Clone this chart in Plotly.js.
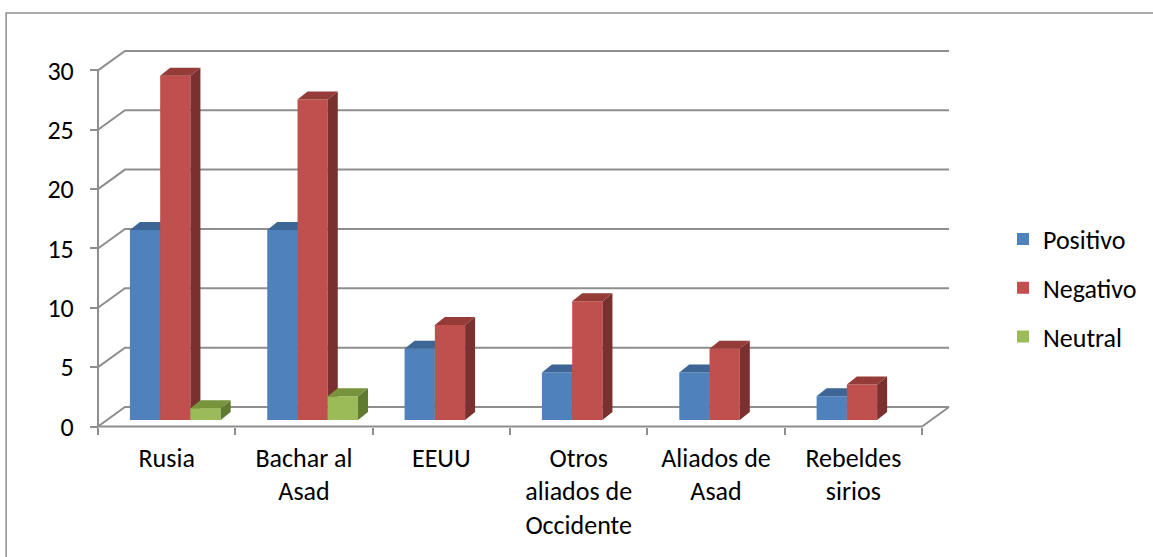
<!DOCTYPE html>
<html><head><meta charset="utf-8">
<script src="https://cdn.plot.ly/plotly-3.0.1.min.js"></script>
<style>html,body{margin:0;padding:0;background:#fff}#chart{width:1153px;height:557px}</style>
</head><body><div id="chart"></div>
<script>
// ---- data ----
const categories = ['Rusia', 'Bachar al<br>Asad', 'EEUU', 'Otros<br>aliados de<br>Occidente', 'Aliados de<br>Asad', 'Rebeldes<br>sirios'];
const seriesNames = ['Positivo', 'Negativo', 'Neutral'];
const positivo = [16, 16, 6, 4, 4, 2];
const negativo = [29, 27, 8, 10, 6, 3];
const neutral = [1, 2, 0, 0, 0, 0];
const yTickVals = [0, 5, 10, 15, 20, 25, 30];

// ---- styles ----
const frontColors = ['#4F81BD', '#C0504D', '#9BBB59'];
const topColors = ['#3D6596', '#953B38', '#77933C'];
const sideColors = ['#2F4F75', '#7A302E', '#607A30'];
const gridColor = '#8E8E8E';
const FONT = {family: 'Carlito, Lato, "Liberation Sans", sans-serif', size: 26, color: '#000'};

// ---- geometry (pixels) ----
const W = 1153, H = 557;
const plotL = 88, plotR = 956, plotT = 36, plotB = 432;
const frontLeftPx = 98, frontRightPx = 923, frontBasePx = 426.5, barBasePx = 420;
const pxPerX = (frontRightPx - frontLeftPx) / categories.length;
const pxPerY = 11.87;
const backDx = 27 / pxPerX, backDy = 19.5 / pxPerY;
const barDx = 10 / pxPerX, barDy = 8 / pxPerY;
const barW = 30.3 / pxPerX, groupLeft = -36.8 / pxPerX;

const xRange = [-0.5 - (frontLeftPx - plotL) / pxPerX, -0.5 + (plotR - frontLeftPx) / pxPerX];
const yFront = [-(plotB - frontBasePx) / pxPerY, (frontBasePx - plotT) / pxPerY];
const yBar = [-(plotB - barBasePx) / pxPerY, (barBasePx - plotT) / pxPerY];
const xPaper = px => (px - plotL) / (plotR - plotL);
const yPaper = py => (plotB - py) / (plotB - plotT);

const idx = categories.map((c, i) => i);
const xLeft = -0.5, xRight = categories.length - 0.5;
const yMax = yTickVals[yTickVals.length - 1];

// ---- walls / gridlines / axis lines ----
const gx = [], gy = [];
yTickVals.forEach(v => {
  gx.push(xLeft, xLeft + backDx, xRight + backDx, null);
  gy.push(v, v + backDy, v + backDy, null);
});
const ax = [xLeft, xLeft, null, xLeft, xRight, xRight + backDx];
const ay = [yMax, 0, null, 0, 0, backDy];

const traces = [
  {type: 'scatter', mode: 'lines', x: gx, y: gy, xaxis: 'x', yaxis: 'y',
   line: {color: gridColor, width: 2}, hoverinfo: 'skip', showlegend: false},
  {type: 'scatter', mode: 'lines', x: ax, y: ay, xaxis: 'x', yaxis: 'y',
   line: {color: gridColor, width: 2}, hoverinfo: 'skip', showlegend: false}
];

const allSeries = [positivo, negativo, neutral];
allSeries.forEach((vals, s) => {
  const yName = 'y' + (s + 2);
  const off = groupLeft + s * barW;
  traces.push({
    type: 'bar', name: seriesNames[s], legendgroup: seriesNames[s],
    x: idx, y: vals, width: barW, offset: off,
    customdata: categories.map(c => c.replace(/<br>/g, ' ')),
    hovertemplate: '%{customdata}: %{y}<extra>' + seriesNames[s] + '</extra>',
    marker: {color: frontColors[s], line: {width: 0}},
    xaxis: 'x', yaxis: yName
  });
  const tx = [], ty = [], sx = [], sy = [];
  vals.forEach((v, i) => {
    if (!v) return;
    const x0 = i + off, x1 = x0 + barW;
    tx.push(x0, x1, x1 + barDx, x0 + barDx, x0, null);
    ty.push(v, v, v + barDy, v + barDy, v, null);
    sx.push(x1, x1, x1 + barDx, x1 + barDx, x1, null);
    sy.push(0, v, v + barDy, barDy, 0, null);
  });
  traces.push({type: 'scatter', mode: 'lines', x: sx, y: sy, fill: 'toself', fillcolor: sideColors[s],
    line: {width: 0, color: sideColors[s]}, legendgroup: seriesNames[s], showlegend: false, hoverinfo: 'skip',
    xaxis: 'x', yaxis: yName});
  traces.push({type: 'scatter', mode: 'lines', x: tx, y: ty, fill: 'toself', fillcolor: topColors[s],
    line: {width: 0, color: topColors[s]}, legendgroup: seriesNames[s], showlegend: false, hoverinfo: 'skip',
    xaxis: 'x', yaxis: yName});
});

const boundaries = idx.concat([categories.length]).map(i => i - 0.5);

const layout = {
  width: W, height: H,
  margin: {l: plotL, r: W - plotR, t: plotT, b: H - plotB, pad: 0},
  paper_bgcolor: '#fff', plot_bgcolor: 'rgba(0,0,0,0)',
  font: FONT,
  barmode: 'overlay',
  showlegend: true,
  xaxis: {
    type: 'linear', range: xRange, fixedrange: true,
    tickmode: 'array', tickvals: idx, ticktext: categories,
    ticks: '', showgrid: false, zeroline: false, showline: false,
    tickfont: FONT, anchor: 'free', position: yPaper(frontBasePx),
    ticklabelstandoff: 13,
    minor: {tickmode: 'array', tickvals: boundaries, ticks: 'outside', ticklen: 7, tickwidth: 2, tickcolor: gridColor, showgrid: false}
  },
  yaxis: {
    type: 'linear', range: yFront, fixedrange: true,
    tickmode: 'array', tickvals: yTickVals,
    ticks: 'outside', ticklen: 8, tickwidth: 2, tickcolor: gridColor,
    showgrid: false, zeroline: false, showline: false,
    tickfont: FONT, anchor: 'free', position: xPaper(frontLeftPx),
    ticklabelstandoff: 11
  },
  yaxis2: {overlaying: 'y', range: yBar, visible: false, fixedrange: true, anchor: 'x'},
  yaxis3: {overlaying: 'y', range: yBar, visible: false, fixedrange: true, anchor: 'x'},
  yaxis4: {overlaying: 'y', range: yBar, visible: false, fixedrange: true, anchor: 'x'},
  legend: {
    x: xPaper(1003), xanchor: 'left', y: yPaper(288), yanchor: 'middle',
    font: FONT, tracegroupgap: 12, bgcolor: 'rgba(0,0,0,0)', traceorder: 'grouped'
  },
  shapes: [
    {type: 'rect', xref: 'paper', yref: 'paper', x0: xPaper(6), x1: xPaper(W + 20), y0: yPaper(H + 20), y1: yPaper(13),
     line: {color: gridColor, width: 1.5}, fillcolor: 'rgba(0,0,0,0)', layer: 'below'}
  ]
};

Plotly.newPlot('chart', traces, layout, {displayModeBar: false, staticPlot: false});
</script>
</body></html>
